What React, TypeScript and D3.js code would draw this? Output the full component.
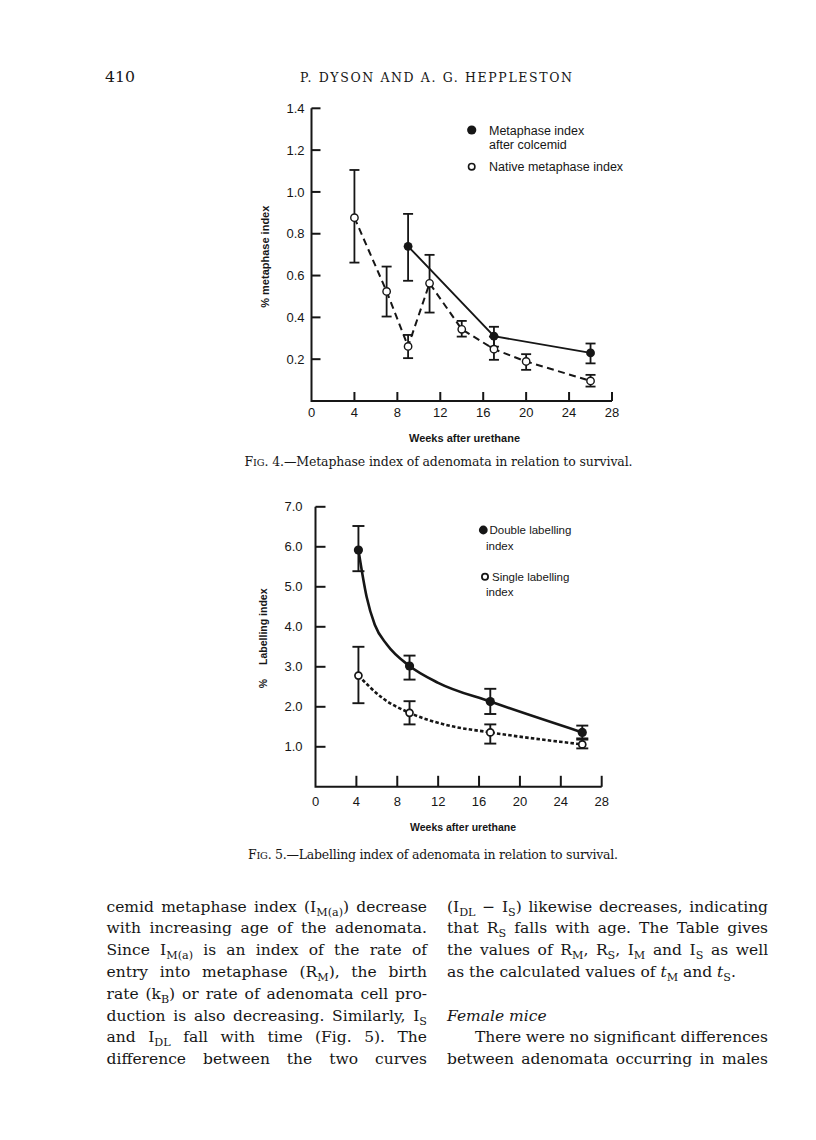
import React from "react";
import * as d3 from "d3";

// ---------- Fig. 4 data (metaphase index, %) ----------
const colcemidWeeks = [9, 17, 26];
const colcemidMean = [0.74, 0.31, 0.23];
const colcemidLow = [0.575, 0.26, 0.18];
const colcemidHigh = [0.895, 0.355, 0.275];

const nativeWeeks = [4, 7, 9, 11, 14, 17, 20, 26];
const nativeMean = [0.877, 0.524, 0.261, 0.563, 0.343, 0.248, 0.189, 0.096];
const nativeLow = [0.662, 0.404, 0.205, 0.423, 0.308, 0.197, 0.149, 0.069];
const nativeHigh = [1.105, 0.643, 0.316, 0.699, 0.383, 0.308, 0.224, 0.125];

const fig4YTicks = [0.2, 0.4, 0.6, 0.8, 1.0, 1.2, 1.4];
const fig4XTicks = [0, 4, 8, 12, 16, 20, 24, 28];

// ---------- Fig. 5 data (labelling index, %) ----------
const labelWeeks = [4.2, 9.2, 17.1, 26.1];
const doubleMean = [5.92, 3.02, 2.13, 1.36];
const doubleLow = [5.39, 2.68, 1.82, 1.21];
const doubleHigh = [6.52, 3.28, 2.45, 1.53];
const singleMean = [2.78, 1.85, 1.36, 1.06];
const singleLow = [2.09, 1.56, 1.08, 0.96];
const singleHigh = [3.5, 2.14, 1.56, 1.18];

// hand-drawn fitted curves
const doubleCurveWeeks = [4.2, 5.0, 5.8, 7.0, 9.2, 12.0, 17.1, 26.1];
const doubleCurveValues = [5.92, 4.75, 4.05, 3.55, 3.02, 2.6, 2.13, 1.36];
const singleCurveWeeks = [4.2, 6.6, 9.2, 12.9, 17.1, 26.1];
const singleCurveValues = [2.78, 2.21, 1.85, 1.54, 1.36, 1.06];

const fig5YTicks = [1, 2, 3, 4, 5, 6, 7];
const fig5XTicks = [0, 4, 8, 12, 16, 20, 24, 28];

// ---------- page text ----------
type Seg = { t: string; sub?: boolean; it?: boolean };

const leftLines: Seg[][] = [
  [{ t: "cemid metaphase index (I" }, { t: "M(a)", sub: true }, { t: ") decrease" }],
  [{ t: "with increasing age of the adenomata." }],
  [{ t: "Since I" }, { t: "M(a)", sub: true }, { t: " is an index of the rate of" }],
  [{ t: "entry into metaphase (R" }, { t: "M", sub: true }, { t: "), the birth" }],
  [{ t: "rate (k" }, { t: "B", sub: true }, { t: ") or rate of adenomata cell pro-" }],
  [{ t: "duction is also decreasing. Similarly, I" }, { t: "S", sub: true }],
  [{ t: "and I" }, { t: "DL", sub: true }, { t: " fall with time (Fig. 5). The" }],
  [{ t: "difference between the two curves" }],
];

const rightLines: { segs: Seg[]; justify: boolean; indent: number; row: number }[] = [
  { segs: [{ t: "(I" }, { t: "DL", sub: true }, { t: " \u2212 I" }, { t: "S", sub: true }, { t: ") likewise decreases, indicating" }], justify: true, indent: 0, row: 0 },
  { segs: [{ t: "that R" }, { t: "S", sub: true }, { t: " falls with age. The Table gives" }], justify: true, indent: 0, row: 1 },
  { segs: [{ t: "the values of R" }, { t: "M", sub: true }, { t: ", R" }, { t: "S", sub: true }, { t: ", I" }, { t: "M", sub: true }, { t: " and I" }, { t: "S", sub: true }, { t: " as well" }], justify: true, indent: 0, row: 2 },
  { segs: [{ t: "as the calculated values of " }, { t: "t", it: true }, { t: "M", sub: true }, { t: " and " }, { t: "t", it: true }, { t: "S", sub: true }, { t: "." }], justify: false, indent: 0, row: 3 },
  { segs: [{ t: "Female mice", it: true }], justify: false, indent: 0, row: 5 },
  { segs: [{ t: "There were no significant differences" }], justify: true, indent: 28, row: 6 },
  { segs: [{ t: "between adenomata occurring in males" }], justify: true, indent: 0, row: 7 },
];

const INK = "#161616";
const SANS = "'Liberation Sans', Arial, Helvetica, sans-serif";
const SERIF = "'DejaVu Serif', serif";

let measureCtx: CanvasRenderingContext2D | null = null;
function measureSegs(segs: Seg[], size: number): number {
  if (!measureCtx) measureCtx = document.createElement("canvas").getContext("2d");
  if (!measureCtx) return 0;
  let w = 0;
  for (const s of segs) {
    const fs = s.sub ? size * 0.72 : size;
    measureCtx.font = `${s.it ? "italic " : ""}${fs}px 'DejaVu Serif'`;
    w += measureCtx.measureText(s.t).width;
  }
  return w;
}

function TextLine({ segs, x, y, width, justify, size }: { segs: Seg[]; x: number; y: number; width: number; justify: boolean; size: number }) {
  const natural = measureSegs(segs, size);
  const spaces = segs.reduce((n, s) => n + (s.t.match(/ /g) || []).length, 0);
  const ws = justify && spaces > 0 ? (width - natural) / spaces : 0;
  let prevSub = false;
  return (
    <text x={x} y={y} fontFamily={SERIF} fontSize={size} fill={INK} style={{ wordSpacing: `${ws}px`, whiteSpace: "pre" }}>
      {segs.map((s, i) => {
        const dy = s.sub && !prevSub ? 4 : !s.sub && prevSub ? -4 : 0;
        prevSub = !!s.sub;
        return (
          <tspan key={i} dy={dy} fontSize={s.sub ? size * 0.72 : size} fontStyle={s.it ? "italic" : "normal"}>
            {s.t}
          </tspan>
        );
      })}
    </text>
  );
}

function ErrorBars({ xs, lo, hi, x, y, cap, sw }: { xs: number[]; lo: number[]; hi: number[]; x: d3.ScaleLinear<number, number>; y: d3.ScaleLinear<number, number>; cap: number; sw: number }) {
  return (
    <g stroke={INK} strokeWidth={sw} fill="none">
      {xs.map((w, i) => (
        <g key={i}>
          <line x1={x(w)} x2={x(w)} y1={y(lo[i])} y2={y(hi[i])} />
          <line x1={x(w) - cap} x2={x(w) + cap} y1={y(lo[i])} y2={y(lo[i])} />
          <line x1={x(w) - cap} x2={x(w) + cap} y1={y(hi[i])} y2={y(hi[i])} />
        </g>
      ))}
    </g>
  );
}

function Fig4() {
  const x = d3.scaleLinear().domain([0, 28]).range([311.5, 612]);
  const y = d3.scaleLinear().domain([0, 1.4]).range([401, 108.3]);
  const straight = d3.line<[number, number]>().x((d) => x(d[0])).y((d) => y(d[1]));
  const nativePath = straight(nativeWeeks.map((w, i) => [w, nativeMean[i]]));
  const colcemidPath = straight(colcemidWeeks.map((w, i) => [w, colcemidMean[i]]));
  const x0 = x(0);
  const y0 = y(0);
  return (
    <g>
      <path d={`M${x0},${y(1.4)}V${y0}H${x(28)}`} fill="none" stroke={INK} strokeWidth={2} />
      {fig4YTicks.map((t) => (
        <g key={t}>
          <line x1={x0} x2={x0 + 9} y1={y(t)} y2={y(t)} stroke={INK} strokeWidth={2} />
          <text x={x0 - 7} y={y(t)} dy="0.36em" textAnchor="end" fontFamily={SANS} fontSize={13} fill={INK}>
            {d3.format(".1f")(t)}
          </text>
        </g>
      ))}
      {fig4XTicks.map((t) => (
        <g key={t}>
          {t > 0 && <line x1={x(t)} x2={x(t)} y1={y0} y2={y0 - 9} stroke={INK} strokeWidth={2} />}
          <text x={x(t)} y={417} textAnchor="middle" fontFamily={SANS} fontSize={13} fill={INK}>
            {t}
          </text>
        </g>
      ))}
      <text x={464.5} y={442} textAnchor="middle" fontFamily={SANS} fontWeight="bold" fontSize={11} fill={INK}>
        Weeks after urethane
      </text>
      <text transform={`translate(269,256.7) rotate(-90)`} textAnchor="middle" fontFamily={SANS} fontWeight="bold" fontSize={11} fill={INK}>
        % metaphase index
      </text>

      <path d={nativePath || ""} fill="none" stroke={INK} strokeWidth={2} strokeDasharray="7 4.5" />
      <path d={colcemidPath || ""} fill="none" stroke={INK} strokeWidth={1.9} />
      <ErrorBars xs={nativeWeeks} lo={nativeLow} hi={nativeHigh} x={x} y={y} cap={5} sw={1.8} />
      <ErrorBars xs={colcemidWeeks} lo={colcemidLow} hi={colcemidHigh} x={x} y={y} cap={5} sw={1.8} />
      {nativeWeeks.map((w, i) => (
        <circle key={i} cx={x(w)} cy={y(nativeMean[i])} r={3.7} fill="#fff" stroke={INK} strokeWidth={1.4} />
      ))}
      {colcemidWeeks.map((w, i) => (
        <circle key={i} cx={x(w)} cy={y(colcemidMean[i])} r={4.4} fill={INK} />
      ))}

      {/* legend */}
      <circle cx={471.7} cy={130} r={4.6} fill={INK} />
      <text x={489} y={130} dy="0.36em" fontFamily={SANS} fontSize={12.5} fill={INK}>
        Metaphase index
      </text>
      <text x={489} y={144.5} dy="0.36em" fontFamily={SANS} fontSize={12.5} fill={INK}>
        after colcemid
      </text>
      <circle cx={471.7} cy={166.7} r={3.2} fill="#fff" stroke={INK} strokeWidth={1.6} />
      <text x={489} y={166.7} dy="0.36em" fontFamily={SANS} fontSize={12.5} fill={INK}>
        Native metaphase index
      </text>
    </g>
  );
}

function Fig5() {
  const x = d3.scaleLinear().domain([0, 28]).range([315.5, 601.7]);
  const y = d3.scaleLinear().domain([0, 7]).range([786.8, 506.8]);
  const curve = d3
    .line<[number, number]>()
    .x((d) => x(d[0]))
    .y((d) => y(d[1]))
    .curve(d3.curveMonotoneX);
  const doublePath = curve(doubleCurveWeeks.map((w, i) => [w, doubleCurveValues[i]]));
  const singlePath = curve(singleCurveWeeks.map((w, i) => [w, singleCurveValues[i]]));
  const x0 = x(0);
  const y0 = y(0);
  return (
    <g>
      <path d={`M${x0},${y(7)}V${y0}H${x(28)}`} fill="none" stroke={INK} strokeWidth={2} />
      {fig5YTicks.map((t) => (
        <g key={t}>
          <line x1={x0} x2={x0 + 10} y1={y(t)} y2={y(t)} stroke={INK} strokeWidth={2} />
          <text x={x0 - 13} y={y(t)} dy="0.36em" textAnchor="end" fontFamily={SANS} fontSize={13} fill={INK}>
            {d3.format(".1f")(t)}
          </text>
        </g>
      ))}
      {fig5XTicks.map((t) => (
        <g key={t}>
          {t > 0 && <line x1={x(t)} x2={x(t)} y1={y0} y2={y0 - 11} stroke={INK} strokeWidth={2} />}
          <text x={x(t)} y={806} textAnchor="middle" fontFamily={SANS} fontSize={13} fill={INK}>
            {t}
          </text>
        </g>
      ))}
      <text x={463} y={831} textAnchor="middle" fontFamily={SANS} fontWeight="bold" fontSize={10.5} fill={INK}>
        Weeks after urethane
      </text>
      <text transform={`translate(267,683.5) rotate(-90)`} textAnchor="middle" fontFamily={SANS} fontWeight="bold" fontSize={10.5} fill={INK}>
        %
      </text>
      <text transform={`translate(267,626.7) rotate(-90)`} textAnchor="middle" fontFamily={SANS} fontWeight="bold" fontSize={10.5} fill={INK}>
        Labelling index
      </text>

      <path d={singlePath || ""} fill="none" stroke={INK} strokeWidth={2.6} strokeDasharray="3.5 2.2" />
      <path d={doublePath || ""} fill="none" stroke={INK} strokeWidth={2.6} />
      <ErrorBars xs={labelWeeks} lo={doubleLow} hi={doubleHigh} x={x} y={y} cap={6} sw={1.9} />
      <ErrorBars xs={labelWeeks} lo={singleLow} hi={singleHigh} x={x} y={y} cap={6} sw={1.9} />
      {labelWeeks.map((w, i) => (
        <circle key={"s" + i} cx={x(w)} cy={y(singleMean[i])} r={3.5} fill="#fff" stroke={INK} strokeWidth={1.7} />
      ))}
      {labelWeeks.map((w, i) => (
        <circle key={"d" + i} cx={x(w)} cy={y(doubleMean[i])} r={4.6} fill={INK} />
      ))}

      {/* legend */}
      <circle cx={483.3} cy={530} r={4.4} fill={INK} />
      <text x={489.5} y={530} dy="0.36em" fontFamily={SANS} fontSize={11.5} fill={INK}>
        Double labelling
      </text>
      <text x={486} y={546} dy="0.36em" fontFamily={SANS} fontSize={11.5} fill={INK}>
        index
      </text>
      <circle cx={485} cy={576.7} r={3.1} fill="#fff" stroke={INK} strokeWidth={1.8} />
      <text x={492} y={576.7} dy="0.36em" fontFamily={SANS} fontSize={11.5} fill={INK}>
        Single labelling
      </text>
      <text x={486} y={592} dy="0.36em" fontFamily={SANS} fontSize={11.5} fill={INK}>
        index
      </text>
    </g>
  );
}

export default function App() {
  const size = 15.5;
  const rowY = (r: number) => 911.5 + r * 21.8;
  return (
    <div style={{ position: "absolute", left: 0, top: 0 }}>
      <svg width={816} height={1140} viewBox="0 0 816 1140" style={{ display: "block", background: "#fff" }}>
        <rect width={816} height={1140} fill="#fff" />
        {/* running head */}
        <text x={105} y={82} fontFamily={SERIF} fontSize={14.5} fill={INK} textLength={30} lengthAdjust="spacingAndGlyphs">
          410
        </text>
        <text x={300} y={82} fontFamily={SERIF} fontSize={12.5} fill={INK} textLength={272} lengthAdjust="spacing">
          P. DYSON AND A. G. HEPPLESTON
        </text>

        <Fig4 />
        <text x={244.5} y={466} fontFamily={SERIF} fontSize={12.5} fill={INK} textLength={388} lengthAdjust="spacing">
          <tspan>F</tspan>
          <tspan fontSize={9.8}>IG</tspan>
          <tspan>. 4.{"\u2014"}Metaphase index of adenomata in relation to survival.</tspan>
        </text>

        <Fig5 />
        <text x={248} y={859} fontFamily={SERIF} fontSize={12.5} fill={INK} textLength={370} lengthAdjust="spacing">
          <tspan>F</tspan>
          <tspan fontSize={9.8}>IG</tspan>
          <tspan>. 5.{"\u2014"}Labelling index of adenomata in relation to survival.</tspan>
        </text>

        {/* body text */}
        {leftLines.map((segs, i) => (
          <TextLine key={"l" + i} segs={segs} x={106.5} y={rowY(i)} width={320.5} justify={true} size={size} />
        ))}
        {rightLines.map((ln, i) => (
          <TextLine key={"r" + i} segs={ln.segs} x={447 + ln.indent} y={rowY(ln.row)} width={321 - ln.indent} justify={ln.justify} size={size} />
        ))}
      </svg>
    </div>
  );
}
